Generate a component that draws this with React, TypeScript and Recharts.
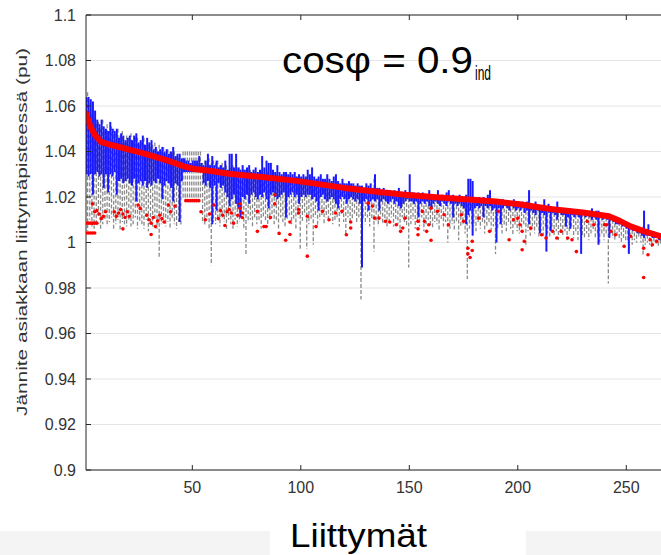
import React from 'react';
import { ComposedChart, Bar, Line, Scatter, XAxis, YAxis, CartesianGrid } from 'recharts';

// customers (Liittymät) 1..266
const customerCount = 266;
const customers: number[] = Array.from({ length: customerCount }, (_, i) => i + 1);

// blue range (upper / lower) per customer
const blueHi = [
  1.064, 1.064, 1.063, 1.062, 1.058, 1.054, 1.052, 1.054, 1.051, 1.050,
  1.049, 1.053, 1.050, 1.049, 1.050, 1.046, 1.048, 1.047, 1.045, 1.046,
  1.047, 1.045, 1.047, 1.048, 1.044, 1.045, 1.047, 1.043, 1.046, 1.044,
  1.045, 1.041, 1.042, 1.040, 1.041, 1.042, 1.040, 1.041, 1.039, 1.040,
  1.042, 1.038, 1.039, 1.039, 1.037, 1.037, 1.036, 1.036, 1.035, 1.036,
  1.036, 1.036, 1.038, 1.035, 1.034, 1.036, 1.039, 1.034, 1.038, 1.034,
  1.036, 1.033, 1.034, 1.033, 1.036, 1.032, 1.039, 1.039, 1.033, 1.039,
  1.033, 1.032, 1.034, 1.032, 1.033, 1.034, 1.031, 1.032, 1.033, 1.031,
  1.032, 1.038, 1.033, 1.036, 1.035, 1.035, 1.032, 1.031, 1.034, 1.031,
  1.030, 1.031, 1.031, 1.030, 1.031, 1.030, 1.031, 1.029, 1.030, 1.029,
  1.030, 1.029, 1.032, 1.030, 1.033, 1.029, 1.028, 1.029, 1.030, 1.028,
  1.028, 1.030, 1.028, 1.027, 1.029, 1.030, 1.027, 1.026, 1.028, 1.026,
  1.026, 1.027, 1.026, 1.026, 1.025, 1.026, 1.025, 1.025, 1.024, 1.026,
  1.025, 1.026, 1.024, 1.030, 1.024, 1.024, 1.023, 1.024, 1.023, 1.023,
  1.023, 1.022, 1.023, 1.022, 1.024, 1.022, 1.022, 1.023, 1.022, 1.030,
  1.022, 1.022, 1.021, 1.022, 1.021, 1.022, 1.021, 1.021, 1.023, 1.021,
  1.021, 1.020, 1.023, 1.020, 1.021, 1.020, 1.022, 1.023, 1.020, 1.021,
  1.020, 1.020, 1.021, 1.020, 1.020, 1.021, 1.028, 1.028, 1.027, 1.020,
  1.019, 1.020, 1.019, 1.020, 1.019, 1.021, 1.023, 1.019, 1.019, 1.019,
  1.018, 1.019, 1.019, 1.018, 1.018, 1.018, 1.018, 1.019, 1.018, 1.017,
  1.017, 1.018, 1.017, 1.018, 1.023, 1.017, 1.016, 1.018, 1.016, 1.016,
  1.016, 1.019, 1.016, 1.017, 1.016, 1.015, 1.015, 1.018, 1.015, 1.015,
  1.015, 1.015, 1.014, 1.015, 1.014, 1.014, 1.014, 1.014, 1.014, 1.014,
  1.014, 1.013, 1.014, 1.015, 1.013, 1.014, 1.014, 1.013, 1.013, 1.013,
  1.013, 1.012, 1.012, 1.011, 1.011, 1.010, 1.010, 1.009, 1.009, 1.008,
  1.008, 1.008, 1.007, 1.007, 1.006, 1.006, 1.006, 1.014, 1.005, 1.008,
  1.005, 1.004, 1.004, 1.004, 1.003, 1.003,
];
const blueLo = [
  1.030, 1.029, 1.030, 1.021, 1.030, 1.031, 1.029, 1.030, 1.024, 1.030,
  1.022, 1.030, 1.029, 1.031, 1.021, 1.027, 1.028, 1.026, 1.027, 1.028,
  1.026, 1.025, 1.028, 1.018, 1.026, 1.027, 1.025, 1.027, 1.024, 1.026,
  1.025, 1.027, 1.026, 1.028, 1.026, 1.019, 1.025, 1.027, 1.026, 1.024,
  1.018, 1.026, 1.025, 1.009, 1.027, 1.031, 1.031, 1.031, 1.031, 1.031,
  1.031, 1.031, 1.031, 1.031, 1.026, 1.025, 1.027, 1.024, 1.008, 1.025,
  1.014, 1.026, 1.024, 1.025, 1.022, 1.020, 1.016, 1.019, 1.021, 1.017,
  1.015, 1.011, 1.020, 1.019, 1.021, 1.017, 1.021, 1.022, 1.020, 1.019,
  1.021, 1.020, 1.022, 1.019, 1.015, 1.021, 1.022, 1.020, 1.019, 1.020,
  1.021, 1.022, 1.011, 1.020, 1.021, 1.022, 1.020, 1.021, 1.017, 1.020,
  1.021, 1.020, 1.021, 1.021, 1.019, 1.020, 1.018, 1.014, 1.020, 1.021,
  1.019, 1.018, 1.019, 1.020, 1.019, 1.017, 1.015, 1.019, 1.020, 1.019,
  1.017, 1.019, 1.020, 1.019, 1.018, 1.019, 1.017, 0.989, 1.018, 1.019,
  1.014, 1.018, 1.019, 1.018, 1.019, 1.014, 1.018, 1.019, 1.018, 1.017,
  1.018, 1.019, 1.017, 1.018, 1.016, 1.015, 1.017, 1.018, 1.019, 1.018,
  1.018, 1.017, 1.018, 1.011, 1.017, 1.018, 1.017, 1.018, 1.016, 1.015,
  1.017, 1.018, 1.017, 1.016, 1.018, 1.017, 1.016, 1.018, 1.017, 1.011,
  1.017, 1.016, 1.017, 1.016, 1.015, 1.008, 1.012, 1.014, 1.003, 1.015,
  1.016, 1.015, 1.016, 1.011, 1.016, 1.015, 1.016, 1.014, 1.015, 1.000,
  1.015, 1.008, 1.015, 1.016, 1.015, 1.014, 1.016, 1.015, 1.014, 1.015,
  1.014, 1.015, 1.013, 1.014, 1.008, 1.014, 1.013, 1.012, 1.014, 1.004,
  1.013, 1.012, 0.996, 1.013, 1.005, 1.013, 1.012, 1.010, 1.013, 1.012,
  1.012, 1.007, 1.011, 1.006, 1.012, 1.011, 1.012, 1.011, 0.995, 1.012,
  1.011, 1.012, 1.011, 1.010, 1.011, 1.010, 0.999, 1.011, 1.010, 1.011,
  1.010, 1.002, 1.010, 1.009, 1.008, 1.008, 1.008, 1.007, 1.007, 1.006,
  0.995, 1.006, 1.005, 1.005, 1.004, 1.004, 1.003, 1.002, 1.003, 1.003,
  1.003, 1.002, 1.002, 1.002, 1.001, 1.001,
];

// grey dashed range (upper / lower) per customer
const grayHi = [
  1.066, 1.066, 1.058, 1.056, 1.055, 1.052, 1.053, 1.050, 1.054, 1.049,
  1.052, 1.049, 1.051, 1.050, 1.048, 1.050, 1.047, 1.049, 1.044, 1.047,
  1.046, 1.048, 1.044, 1.046, 1.046, 1.043, 1.044, 1.046, 1.042, 1.043,
  1.042, 1.043, 1.044, 1.041, 1.043, 1.040, 1.042, 1.039, 1.041, 1.040,
  1.039, 1.040, 1.038, 1.037, 1.036, 1.040, 1.040, 1.040, 1.040, 1.040,
  1.040, 1.040, 1.040, 1.040, 1.035, 1.036, 1.034, 1.037, 1.035, 1.036,
  1.035, 1.036, 1.034, 1.035, 1.033, 1.034, 1.032, 1.033, 1.034, 1.032,
  1.031, 1.033, 1.030, 1.032, 1.031, 1.030, 1.032, 1.030, 1.031, 1.030,
  1.030, 1.031, 1.029, 1.030, 1.031, 1.029, 1.030, 1.028, 1.030, 1.029,
  1.028, 1.029, 1.030, 1.028, 1.029, 1.027, 1.028, 1.029, 1.027, 1.028,
  1.027, 1.028, 1.029, 1.027, 1.028, 1.026, 1.027, 1.028, 1.026, 1.027,
  1.026, 1.027, 1.025, 1.026, 1.027, 1.025, 1.026, 1.024, 1.025, 1.026,
  1.024, 1.025, 1.024, 1.023, 1.025, 1.024, 1.023, 1.024, 1.023, 1.024,
  1.023, 1.024, 1.023, 1.028, 1.022, 1.023, 1.022, 1.021, 1.023, 1.022,
  1.021, 1.022, 1.021, 1.020, 1.022, 1.021, 1.020, 1.021, 1.020, 1.022,
  1.020, 1.021, 1.020, 1.019, 1.021, 1.020, 1.019, 1.020, 1.019, 1.020,
  1.019, 1.020, 1.019, 1.018, 1.020, 1.019, 1.018, 1.019, 1.018, 1.019,
  1.018, 1.019, 1.018, 1.017, 1.019, 1.018, 1.017, 1.018, 1.017, 1.018,
  1.017, 1.018, 1.017, 1.016, 1.018, 1.017, 1.016, 1.017, 1.016, 1.017,
  1.016, 1.017, 1.016, 1.015, 1.017, 1.016, 1.015, 1.016, 1.015, 1.016,
  1.015, 1.016, 1.015, 1.014, 1.016, 1.015, 1.014, 1.015, 1.014, 1.015,
  1.014, 1.015, 1.014, 1.013, 1.015, 1.014, 1.013, 1.014, 1.013, 1.014,
  1.013, 1.014, 1.013, 1.012, 1.014, 1.013, 1.012, 1.013, 1.012, 1.013,
  1.012, 1.013, 1.012, 1.011, 1.013, 1.012, 1.011, 1.012, 1.011, 1.012,
  1.011, 1.012, 1.011, 1.010, 1.011, 1.010, 1.009, 1.010, 1.009, 1.008,
  1.008, 1.007, 1.008, 1.007, 1.006, 1.007, 1.006, 1.007, 1.005, 1.006,
  1.005, 1.004, 1.005, 1.004, 1.003, 1.004,
];
const grayLo = [
  1.008, 1.005, 1.010, 1.007, 1.006, 1.009, 1.011, 1.006, 1.008, 1.010,
  1.007, 1.009, 1.011, 1.006, 1.008, 1.010, 1.005, 1.009, 1.008, 1.007,
  1.010, 1.007, 1.008, 1.011, 1.006, 1.009, 1.008, 1.006, 1.010, 1.005,
  1.009, 1.007, 1.010, 1.006, 0.993, 1.008, 1.010, 1.007, 1.009, 1.006,
  1.010, 1.008, 1.006, 1.009, 1.007, 1.019, 1.019, 1.019, 1.019, 1.019,
  1.019, 1.019, 1.019, 1.019, 1.009, 1.007, 1.010, 1.006, 0.990, 1.009,
  1.008, 1.010, 1.007, 1.011, 1.009, 1.006, 1.010, 1.008, 1.006, 1.010,
  1.007, 1.009, 1.011, 1.006, 0.995, 1.009, 1.010, 1.007, 1.011, 1.008,
  1.010, 1.006, 1.011, 1.009, 1.007, 1.010, 1.012, 1.008, 1.010, 1.006,
  1.011, 1.009, 1.007, 1.010, 1.012, 1.008, 1.010, 1.006, 1.011, 0.997,
  1.009, 1.012, 0.997, 1.008, 1.010, 0.999, 1.011, 1.007, 1.010, 1.012,
  1.008, 1.011, 1.009, 1.012, 1.008, 1.010, 1.011, 1.007, 1.012, 1.009,
  1.003, 1.011, 1.008, 1.010, 1.012, 1.009, 1.011, 0.975, 1.010, 1.008,
  1.011, 1.007, 1.010, 0.996, 1.009, 1.007, 1.011, 1.008, 1.010, 1.006,
  1.009, 1.011, 1.007, 1.010, 1.008, 1.006, 1.011, 1.009, 1.007, 0.989,
  1.008, 1.010, 1.006, 1.009, 1.007, 1.011, 1.005, 1.008, 1.010, 1.007,
  1.006, 1.009, 1.008, 1.005, 1.010, 1.007, 1.009, 1.000, 1.006, 1.008,
  1.005, 1.009, 1.001, 1.007, 1.008, 1.004, 0.984, 1.006, 1.008, 1.007,
  1.005, 1.009, 1.006, 1.008, 1.004, 1.007, 1.009, 1.005, 1.007, 0.995,
  1.006, 1.008, 1.004, 1.007, 1.005, 1.008, 1.006, 1.003, 1.007, 1.005,
  1.004, 1.006, 1.008, 0.998, 1.005, 1.003, 1.007, 1.004, 1.006, 1.002,
  1.005, 1.003, 1.006, 1.004, 1.002, 1.006, 1.003, 1.005, 1.001, 1.004,
  1.003, 1.005, 1.001, 1.004, 1.006, 1.002, 1.004, 1.001, 1.005, 1.003,
  1.002, 1.004, 1.001, 1.003, 1.005, 1.002, 1.004, 1.000, 1.003, 1.001,
  1.003, 0.982, 1.004, 1.002, 1.001, 1.003, 1.002, 1.000, 1.002, 1.001,
  1.000, 1.002, 0.999, 1.001, 1.000, 1.002, 1.000, 0.994, 0.999, 1.000,
  0.999, 0.998, 1.000, 0.999, 0.998, 0.999,
];

// red sorted curve (customer, value)
const redX = [1, 3, 5, 8, 12, 15, 20, 25, 31, 38, 46, 51, 58, 66, 82, 97, 113, 120, 133, 148, 164, 179, 190, 200, 215, 230, 242, 247, 252, 258, 266];
const redY = [1.0567, 1.051, 1.0474, 1.0442, 1.043, 1.0423, 1.041, 1.0398, 1.0382, 1.0362, 1.0335, 1.0323, 1.0315, 1.0303, 1.0288, 1.0272, 1.025, 1.024, 1.0225, 1.021, 1.0198, 1.0188, 1.018, 1.0169, 1.0147, 1.0132, 1.0115, 1.0095, 1.0071, 1.005, 1.0027];

// red points (customer, value)
const dotX = [
  1, 2, 3, 4, 5, 6, 1, 2, 3, 4, 5, 4, 6, 7, 9, 10, 5, 8,
  14, 15, 16, 17, 18, 19, 20, 21, 18, 25, 26,
  29, 30, 31, 32, 33, 34, 35, 36, 37, 31, 39, 40, 42,
  47, 48, 49, 50, 51, 52, 53,
  54, 56, 58, 60, 62, 63, 64, 65, 66,
  67, 68, 69, 71, 72, 72, 73, 73, 80, 80, 83, 84, 86, 88, 88, 90, 93, 95, 95, 99, 99, 103, 103, 107, 110, 113, 116, 119, 121, 123, 123, 131, 133,
  134, 136, 139, 141, 144, 146, 147, 148, 154, 154, 154, 156, 157, 158, 159, 160, 160, 163, 166, 168, 174, 175, 177, 177, 178, 179, 179, 182, 187, 191, 196, 198,
  200, 201, 202, 203, 202, 206, 211, 213, 216, 218, 220, 223, 225, 227, 232, 235, 240, 241, 243, 245, 249, 252, 258, 258, 260, 261, 262, 264,
];
const dotY = [
  1.0085, 1.0085, 1.0085, 1.0085, 1.0085, 1.0085, 1.0042, 1.0042, 1.0042, 1.0042, 1.0042, 1.017, 1.014, 1.0125, 1.0115, 1.0135, 1.0135, 1.0105,
  1.0135, 1.0115, 1.013, 1.0145, 1.0125, 1.011, 1.0135, 1.0115, 1.006, 1.0165, 1.015,
  1.012, 1.010, 1.0085, 1.011, 1.007, 1.0095, 1.012, 1.0105, 1.009, 1.0035, 1.0165, 1.0135, 1.016,
  1.0184, 1.0184, 1.0184, 1.0184, 1.0184, 1.0184, 1.0184,
  1.0135, 1.010, 1.0125, 1.0165, 1.0105, 1.014, 1.012, 1.0075, 1.0135,
  1.0145, 1.013, 1.0085, 1.012, 1.017, 1.015, 1.013, 1.011, 1.0137, 1.0049, 1.007, 1.007, 1.011, 1.021, 1.017, 1.004, 1.001, 1.009, 1.0035, 1.0145, 1.013, 0.994, 1.0115, 1.007, 1.0137, 1.010, 1.013, 1.0137, 1.0034, 1.009, 1.0064, 1.0173, 1.016,
  1.0107, 1.0107, 1.0093, 1.009, 1.0078, 1.0049, 1.0064, 1.0107, 1.0093, 1.006, 1.0034, 1.0137, 1.0093, 1.0049, 1.0078, 1.0151, 1.001, 1.0137, 1.0122, 1.0078, 1.0122, 1.0093, 0.9975, 0.995, 0.9934, 0.9965, 1.0005, 1.0107, 1.0049, 1.0137, 1.0012, 1.010,
  1.0107, 1.0078, 1.0049, 1.0005, 0.9968, 1.0063, 1.0034, 1.002, 1.0049, 1.002, 1.0049, 1.002, 1.0012, 0.996, 1.0093, 1.0078, 1.0078, 1.0078, 1.0049, 1.0034, 0.9983, 1.0027, 0.9846, 0.9975, 0.9946, 1.0012, 0.999, 1.0005,
];

const xTicks = [50, 100, 150, 200, 250];
const yTicks = [0.9, 0.92, 0.94, 0.96, 0.98, 1.0, 1.02, 1.04, 1.06, 1.08, 1.1];

const redAt = new Map<number, number>(redX.map((x, i) => [x, redY[i]]));
const data = customers.map((c, i) => ({
  x: c,
  blue: [blueLo[i], blueHi[i]],
  gray: [grayLo[i], grayHi[i]],
  red: redAt.has(c) ? redAt.get(c) : null,
}));
const dots = dotX.map((x, i) => ({ x, y: dotY[i] }));

const FONT = '"Liberation Sans", Arial, Helvetica, sans-serif';

const GrayShape = (p: any) => {
  const cx = p.x + p.width / 2;
  return (
    <line x1={cx} x2={cx} y1={p.y} y2={p.y + p.height} stroke="#8a8a8a" strokeWidth={1.3} strokeDasharray="4 2" />
  );
};
const BlueShape = (p: any) => {
  const cx = p.x + p.width / 2;
  return <line x1={cx} x2={cx} y1={p.y} y2={p.y + p.height} stroke="#1a1aff" strokeWidth={2} />;
};
const RedDot = (p: any) => <circle cx={p.cx} cy={p.cy} r={1.8} fill="#ff0000" />;

const fmtY = (v: number) => String(Number(v.toFixed(2)));

export default function App() {
  return (
    <div style={{ position: 'absolute', left: 0, top: 0, width: 661, height: 555, background: '#fff', fontFamily: FONT, overflow: 'hidden' }}>
      <svg width={661} height={555} style={{ position: 'absolute', left: 0, top: 0 }}>
        <rect x={0} y={531} width={270} height={24} fill="#f4f4f4" />
        <rect x={526} y={531} width={135} height={24} fill="#f4f4f4" />
      </svg>
      <div style={{ position: 'absolute', left: 0, top: 0 }}>
        <ComposedChart
          width={661}
          height={555}
          data={data}
          margin={{ top: 14, right: 0, bottom: 55, left: 0 }}
          barGap={0}
          barCategoryGap={0}
        >
          <CartesianGrid vertical={false} stroke="#e4e4e4" strokeWidth={1} />
          <XAxis
            dataKey="x"
            type="number"
            domain={[1, 266]}
            allowDataOverflow
            ticks={xTicks}
            height={30}
            tickSize={-5}
            tickMargin={17}
            axisLine={{ stroke: '#262626' }}
            tickLine={{ stroke: '#262626' }}
            tick={{ fill: '#333', fontSize: 16, fontFamily: FONT }}
          />
          <XAxis
            xAxisId="top"
            dataKey="x"
            type="number"
            orientation="top"
            domain={[1, 266]}
            allowDataOverflow
            ticks={xTicks}
            height={1}
            tickSize={-5}
            tickFormatter={() => ''}
            axisLine={{ stroke: '#262626' }}
            tickLine={{ stroke: '#262626' }}
          />
          <YAxis
            type="number"
            domain={[0.9, 1.1]}
            allowDataOverflow
            ticks={yTicks}
            width={86}
            tickSize={-5}
            tickMargin={15}
            tickFormatter={fmtY}
            axisLine={{ stroke: '#262626' }}
            tickLine={{ stroke: '#262626' }}
            tick={{ fill: '#333', fontSize: 16, fontFamily: FONT }}
          />
          <Bar dataKey="gray" barSize={1} shape={GrayShape} isAnimationActive={false} />
          <Bar dataKey="blue" barSize={1} shape={BlueShape} isAnimationActive={false} />
          <Scatter data={dots} dataKey="y" shape={RedDot} isAnimationActive={false} />
          <Line
            dataKey="red"
            type="linear"
            stroke="#ff0000"
            strokeWidth={6}
            strokeLinecap="round"
            strokeLinejoin="round"
            dot={false}
            activeDot={false}
            connectNulls
            isAnimationActive={false}
          />
        </ComposedChart>
      </div>
      <svg width={661} height={555} style={{ position: 'absolute', left: 0, top: 0, pointerEvents: 'none' }}>
        <text
          transform="translate(27,232) rotate(-90)"
          textAnchor="middle"
          fontSize={15.5}
          fill="#333"
          fontFamily={FONT}
          textLength={368}
          lengthAdjust="spacingAndGlyphs"
        >
          Jännite asiakkaan liittymäpisteessä (pu)
        </text>
        <text x={282} y={73} fontSize={36} fill="#000" fontFamily={FONT} textLength={191} lengthAdjust="spacingAndGlyphs">
          cosφ = 0.9
        </text>
        <text x={475} y={80} fontSize={20} fill="#000" fontFamily={FONT} textLength={16} lengthAdjust="spacingAndGlyphs">
          ind
        </text>
        <text x={290} y={547} fontSize={32.6} fill="#000" fontFamily={FONT} textLength={137} lengthAdjust="spacingAndGlyphs">
          Liittymät
        </text>
      </svg>
    </div>
  );
}
